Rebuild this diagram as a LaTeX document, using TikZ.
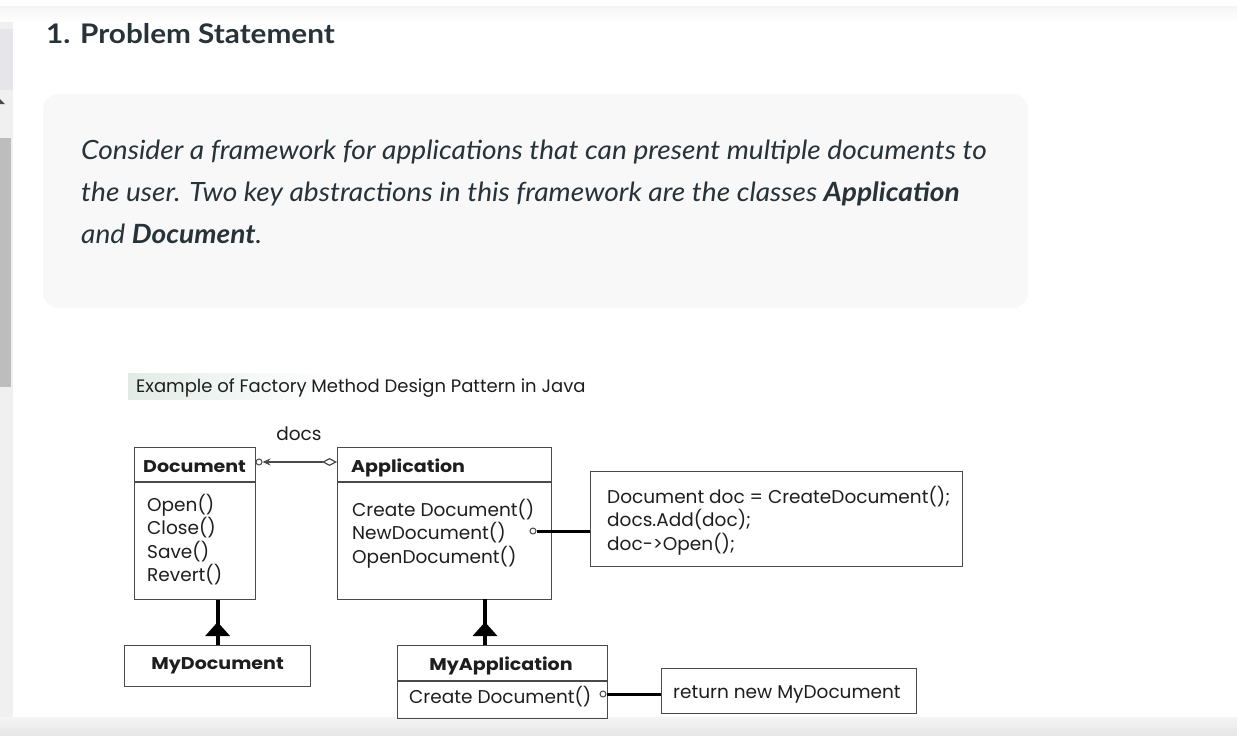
\documentclass[tikz,border=0pt]{standalone}
\usepackage{fontspec}
\setmainfont[FakeStretch=1.06]{Lato}
\newfontfamily\titlefont[FakeStretch=1.10]{Lato}
\newfontfamily\diagfont{Poppins}
\newfontfamily\diagwide[FakeStretch=1.12]{Poppins}
\usetikzlibrary{arrows.meta,positioning,calc}

\definecolor{pagetext}{HTML}{273239}
\definecolor{boxgray}{HTML}{F8F8F8}
\definecolor{umlline}{HTML}{4A4A4A}
\definecolor{umltext}{HTML}{1E1E1E}
\definecolor{capshade}{HTML}{E2ECE7}
\definecolor{scrolltop}{HTML}{E5E5EA}
\definecolor{scrollthumb}{HTML}{BDBDBD}
\definecolor{scrolltrack}{HTML}{F0F0F0}

\tikzset{
  umlbox/.style={draw=umlline, line width=1.2pt, inner sep=0pt, anchor=north west},
  umltxt/.style={text=umltext, inner sep=0pt, anchor=base west, font=\diagfont\fontsize{18.5}{22}\selectfont},
  umlbold/.style={text=umltext, inner sep=0pt, font=\diagwide\bfseries\fontsize{17}{20}\selectfont},
  pincirc/.style={circle, draw=umlline, line width=1pt, fill=white, inner sep=0pt, minimum size=6pt},
  noteline/.style={line width=3pt, draw=black},
  inhline/.style={line width=4pt, draw=black},
  pagetxt/.style={text=pagetext, inner sep=0pt, anchor=base west, font=\itshape\fontsize{26.5}{30}\selectfont},
}

\begin{document}
\begin{tikzpicture}[x=1pt,y=-1pt]
\useasboundingbox (0,0) rectangle (1237,736);
\fill[white] (0,0) rectangle (1237,736);
% browser chrome
\shade[top color=gray!8, bottom color=white] (0,6) rectangle (1237,22);
\fill[scrolltrack] (0,22) rectangle (13,717);
\fill[scrolltop] (0,29) rectangle (13,90);
\fill[scrollthumb] (0,138) rectangle (11,387);
\fill[umlline] (0,99) -- (5,104) -- (0,104) -- cycle;
\shade[top color=gray!8, bottom color=gray!20] (0,717) rectangle (1237,736);

% heading and quote
\node[pagetxt, font=\titlefont\bfseries\fontsize{27}{30}\selectfont] (title) at (46,43) {1. Problem Statement};
\fill[boxgray, rounded corners=16pt] (43,94) rectangle (1028,308);
\node[pagetxt] (line1) at (81,159) {Consider a framework for applications that can present multiple documents to};
\node[pagetxt] (line2) at (81,201) {the user. Two key abstractions in this framework are the classes \textbf{Application}};
\node[pagetxt] (line3) at (81,243) {and \textbf{Document}.};

% diagram caption
\shade[left color=capshade, right color=white] (128,373) rectangle (330,399);
\node[umltxt, font=\diagfont\fontsize{18}{20}\selectfont] (caption) at (136,392) {Example of Factory Method Design Pattern in Java};

% classes
\node[umlbox, minimum width=121pt, minimum height=152pt] (doc) at (134,447) {};
\draw[umlline, line width=1.2pt] (134,482) -- (255,482);
\node[umlbold, anchor=base west] (doctitle) at (143,472) {Document};
\node[umltxt] (open) at (147,511) {Open()};
\node[umltxt] (close) at (147,534.5) {Close()};
\node[umltxt] (save) at (147,558) {Save()};
\node[umltxt] (revert) at (147,581.5) {Revert()};

\node[umlbox, minimum width=214pt, minimum height=152pt] (app) at (337,447) {};
\draw[umlline, line width=1.2pt] (337,482) -- (551,482);
\node[umlbold, anchor=base west] (apptitle) at (351,472) {Application};
\node[umltxt] (create) at (352,516) {Create Document()};
\node[umltxt] (newdoc) at (352,539.5) {NewDocument()};
\node[umltxt] (opendoc) at (352,563.5) {OpenDocument()};

\node[umlbox, minimum width=186pt, minimum height=41pt] (mydoc) at (124,645) {};
\node[umlbold] (mydoctitle) at (mydoc.center) {MyDocument};

\node[umlbox, minimum width=210pt, minimum height=73pt] (myapp) at (397,645) {};
\draw[umlline, line width=1.2pt] (397,681) -- (607,681);
\node[umlbold, anchor=base] (myapptitle) at (501,670) {MyApplication};
\node[umltxt] (myappop) at (409,703) {Create Document()};

% notes
\node[umlbox, minimum width=372pt, minimum height=95pt] (note) at (590,471) {};
\node[umltxt] (noteone) at (607,503) {Document doc = CreateDocument();};
\node[umltxt] (notetwo) at (607,526.5) {docs.Add(doc);};
\node[umltxt] (notethree) at (607,550) {doc->Open();};
\node[umlbox, minimum width=255pt, minimum height=45pt] (retnote) at (661,668) {};
\node[umltxt] (rettext) at (673,698) {return new MyDocument};

% connectors
\node[umltxt, anchor=center] (docslabel) at (299,434) {docs};
\node[pincirc] (docpin) at (259,462) {};
\draw[umlline, line width=1.2pt, {Stealth[length=8pt,width=7pt]}-{Diamond[open,length=15pt,width=8pt,line width=1.2pt]}] (docpin.east) -- (app.west |- docpin);

\node[pincirc] (newpin) at (533,531) {};
\draw[noteline] (newpin.east) -- (note.west |- newpin);
\node[pincirc] (createpin) at (603,694) {};
\draw[noteline] (createpin.east) -- (retnote.west |- createpin);

\coordinate (appinh) at (485,599);
\coordinate (myappinh) at (485,645);
\draw[inhline] (mydoc.north) -- (mydoc.north |- doc.south);
\draw[inhline, -{Triangle[width=24pt,length=14pt]}] (mydoc.north) -- ++(0,-23);
\draw[inhline] (myappinh) -- (appinh);
\draw[inhline, -{Triangle[width=24pt,length=14pt]}] (myappinh) -- ++(0,-23);
\end{tikzpicture}
\end{document}
